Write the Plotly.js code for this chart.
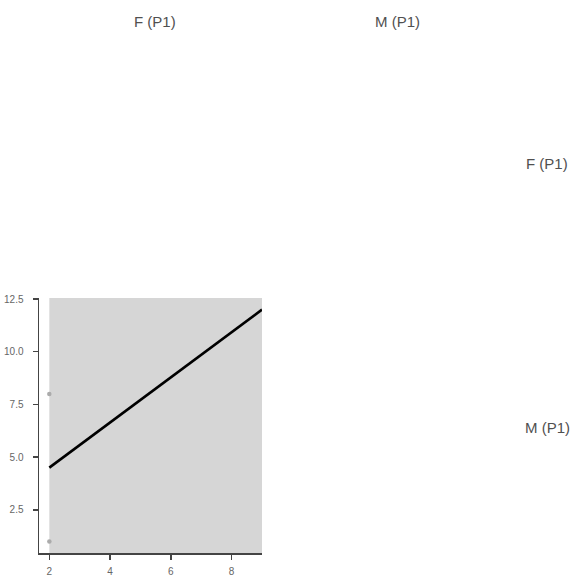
<!DOCTYPE html>
<html>
<head>
<meta charset="utf-8">
<script src="https://cdn.plot.ly/plotly-3.0.1.min.js"></script>
<style>html,body{margin:0;padding:0;background:#fff;}#chart{width:575px;height:576px;}</style>
</head>
<body>
<div id="chart"></div>
<script>
const colLabels = ["F (P1)", "M (P1)"];
const rowLabels = ["F (P1)", "M (P1)"];
const lineX = [2, 9];
const lineY = [4.5, 12];
const pointX = [2, 2];
const pointY = [8, 1];
const xTicks = [2, 4, 6, 8];
const yTicks = [2.5, 5.0, 7.5, 10.0, 12.5];

const W = 575, H = 576;
const px = v => v / W;
const py = v => 1 - v / H;

const traces = [
  {x: pointX, y: pointY, type: 'scatter', mode: 'markers',
   marker: {color: '#ababab', size: 4.5}, hoverinfo: 'skip', cliponaxis: false},
  {x: lineX, y: lineY, type: 'scatter', mode: 'lines',
   line: {color: '#000', width: 2.6}, hoverinfo: 'skip'}
];

const labelFont = {family: 'Liberation Sans, Arial, sans-serif', size: 15, color: '#505050'};

const layout = {
  width: W, height: H,
  margin: {l: 0, r: 0, t: 0, b: 0},
  paper_bgcolor: '#fff', plot_bgcolor: 'rgba(0,0,0,0)',
  showlegend: false,
  font: {family: 'Liberation Sans, Arial, sans-serif', color: '#666'},
  xaxis: {
    domain: [px(39), px(262)], range: [1.66, 9.0],
    showgrid: false, zeroline: false, showline: true, linecolor: '#444', linewidth: 1.5,
    ticks: 'outside', ticklen: 5, tickwidth: 1.5, tickcolor: '#444', ticklabelstandoff: 3,
    tickvals: xTicks, tickfont: {size: 10, color: '#666'}, fixedrange: true
  },
  yaxis: {
    domain: [1 - 553 / H, 1 - 298 / H], range: [0.45, 12.55],
    showgrid: false, zeroline: false, showline: true, linecolor: '#444', linewidth: 1.5,
    ticks: 'outside', ticklen: 5, tickwidth: 1.5, tickcolor: '#444', ticklabelstandoff: 7,
    tickvals: yTicks, tickformat: '.1f', tickfont: {size: 10, color: '#666'}, fixedrange: true
  },
  shapes: [
    {type: 'rect', xref: 'x', yref: 'y domain', x0: lineX[0], x1: lineX[1], y0: 0, y1: 1,
     fillcolor: '#d6d6d6', line: {width: 0}, layer: 'below'}
  ],
  annotations: [
    {text: colLabels[0], xref: 'paper', yref: 'paper', x: px(155), y: py(22), showarrow: false,
     font: labelFont, xanchor: 'center', yanchor: 'middle'},
    {text: colLabels[1], xref: 'paper', yref: 'paper', x: px(397), y: py(22), showarrow: false,
     font: labelFont, xanchor: 'center', yanchor: 'middle'},
    {text: rowLabels[0], xref: 'paper', yref: 'paper', x: px(547), y: py(163), showarrow: false,
     font: labelFont, xanchor: 'center', yanchor: 'middle'},
    {text: rowLabels[1], xref: 'paper', yref: 'paper', x: px(547), y: py(427), showarrow: false,
     font: labelFont, xanchor: 'center', yanchor: 'middle'}
  ]
};

Plotly.newPlot('chart', traces, layout, {displayModeBar: false, staticPlot: true});
</script>
</body>
</html>
